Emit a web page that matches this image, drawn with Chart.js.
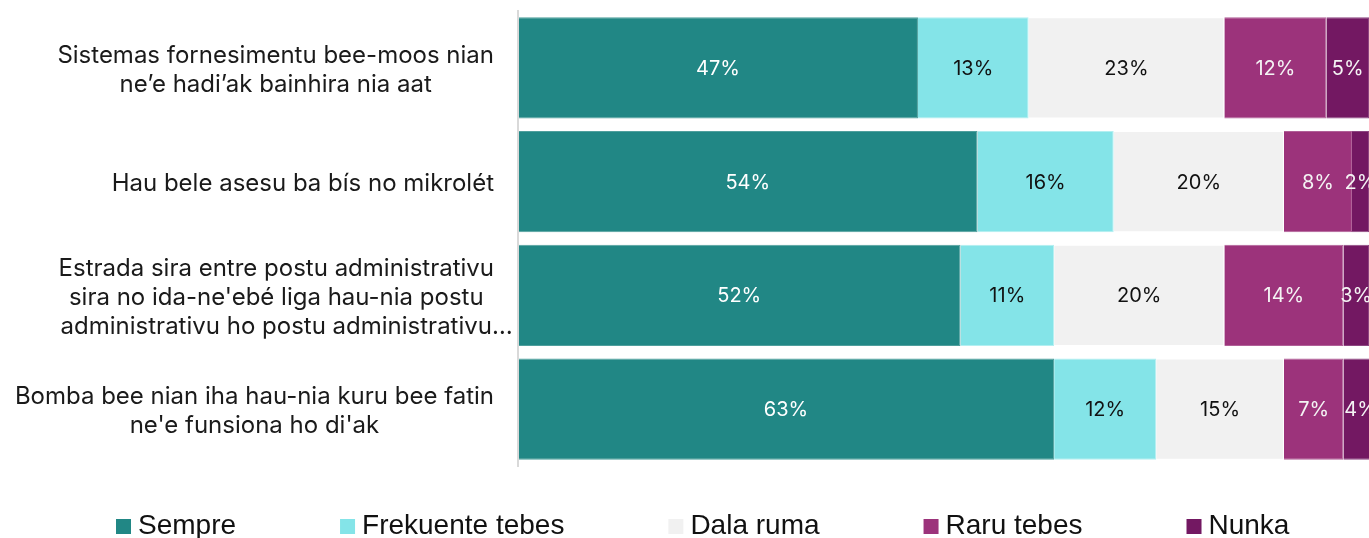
<!DOCTYPE html>
<html>
<head>
<meta charset="utf-8">
<script src="https://cdn.jsdelivr.net/npm/chart.js@4.4.1/dist/chart.umd.min.js"></script>
<style>
  html, body { margin: 0; padding: 0; background: #fff; }
  #wrap { width: 1369px; height: 538px; position: relative; }
</style>
</head>
<body>
<div id="wrap"><canvas id="myChart"></canvas></div>
<script>
// categories (multi-line labels as shown)
var categories = [
    ["Sistemas fornesimentu bee-moos nian", "ne\u2019e hadi\u2019ak bainhira nia aat"],
    ["Hau bele asesu ba bís no mikrolét"],
    ["Estrada sira entre postu administrativu", "sira no ida-ne'ebé liga hau-nia postu", "administrativu ho postu administrativu\u2026"],
    ["Bomba bee nian iha hau-nia kuru bee fatin", "ne'e funsiona ho di'ak"]
];
var seriesNames = ["Sempre", "Frekuente tebes", "Dala ruma", "Raru tebes", "Nunka"];

// values in %
var sempre    = [47, 54, 52, 63];
var frekuente = [13, 16, 11, 12];
var dalaRuma  = [23, 20, 20, 15];
var raru      = [12, 8, 14, 7];
var nunka     = [5, 2, 3, 4];

var colors       = ["#218785", "#84e4e8", "#f1f1f1", "#9c337b", "#731862"];
var borderColors = ["#4f9f9d", "#b3eff1", "#ffffff", "#b05f97", "#8d4681"];
var labelColors  = ["#ffffff", "#111111", "#111111", "#f4f4f4", "#f4f4f4"];

var seriesData = [sempre, frekuente, dalaRuma, raru, nunka];

// y labels: each block right aligned, lines centered inside it
var yLabelPlugin = {
    id: 'yLabels',
    afterDraw: function(chart) {
        var ctx = chart.ctx;
        var y = chart.scales.y;
        var right = chart.chartArea.left - 24;
        ctx.save();
        ctx.font = '24px Inter, "Liberation Sans", sans-serif';
        ctx.fillStyle = '#1a1a1a';
        ctx.textBaseline = 'middle';
        ctx.textAlign = 'left';
        categories.forEach(function(lines, i) {
            var widths = lines.map(function(l) { return ctx.measureText(l.replace(/\u2026$/, '')).width; });
            var maxW = Math.max.apply(null, widths);
            var cx = right - maxW / 2;
            var cy = y.getPixelForValue(i) + 2;
            lines.forEach(function(l, j) {
                ctx.fillText(l, cx - widths[j] / 2, cy + (j - (lines.length - 1) / 2) * 29);
            });
        });
        ctx.restore();
    }
};

// percent labels in the middle of each segment
var valueLabelPlugin = {
    id: 'valueLabels',
    afterDatasetsDraw: function(chart) {
        var ctx = chart.ctx;
        ctx.save();
        ctx.font = '20px Inter, Roboto, sans-serif';
        ctx.textAlign = 'center';
        ctx.textBaseline = 'middle';
        chart.data.datasets.forEach(function(ds, di) {
            var meta = chart.getDatasetMeta(di);
            ctx.fillStyle = labelColors[di];
            meta.data.forEach(function(bar, i) {
                var c = bar.getCenterPoint();
                ctx.fillText(ds.data[i] + '%', c.x, c.y + 1);
            });
        });
        ctx.restore();
    }
};

// legend row at the bottom
var legendPlugin = {
    id: 'bottomLegend',
    afterDraw: function(chart) {
        var ctx = chart.ctx;
        ctx.save();
        ctx.font = '28px "Liberation Sans", Arial, sans-serif';
        ctx.textBaseline = 'alphabetic';
        ctx.textAlign = 'left';
        var x = 116, base = 534;
        seriesNames.forEach(function(name, i) {
            ctx.fillStyle = colors[i];
            ctx.fillRect(x, base - 15, 15, 15);
            ctx.fillStyle = '#111111';
            ctx.fillText(name, x + 22, base);
            x += 22 + ctx.measureText(name).width + 104;
        });
        ctx.restore();
    }
};

var ctx = document.getElementById('myChart');
var chart = new Chart(ctx, {
    type: 'bar',
    data: {
        labels: categories,
        datasets: seriesNames.map(function(name, i) {
            return {
                label: name,
                data: seriesData[i],
                backgroundColor: colors[i],
                borderColor: borderColors[i],
                borderWidth: 1,
                barPercentage: 0.888,
                categoryPercentage: 1
            };
        })
    },
    options: {
        indexAxis: 'y',
        responsive: true,
        maintainAspectRatio: false,
        animation: false,
        layout: { padding: { top: 11, bottom: 72, left: 0, right: 0 } },
        scales: {
            x: { stacked: true, min: 0, max: 100, display: false },
            y: {
                stacked: true,
                grid: { display: false, drawTicks: false },
                border: { display: true, color: '#d9d9d9', width: 2, z: 1 },
                ticks: { display: false },
                afterFit: function(scale) { scale.width = 518; }
            }
        },
        plugins: {
            legend: { display: false },
            tooltip: { enabled: false }
        }
    },
    plugins: [yLabelPlugin, valueLabelPlugin, legendPlugin]
});
</script>
</body>
</html>
